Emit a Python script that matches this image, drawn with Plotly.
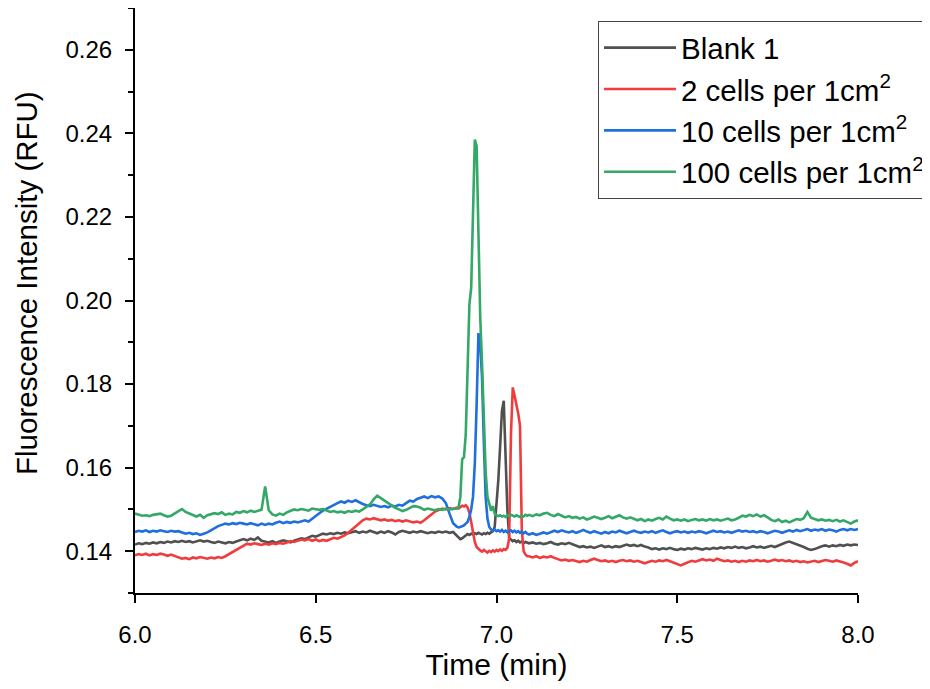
import numpy as np
import plotly.graph_objects as go

# time grid (min)
t_a = np.round(np.arange(6.00, 6.885, 0.01), 3)
t_b = np.round(np.arange(6.89, 7.0875, 0.005), 3)
t_c = np.round(np.arange(7.09, 8.005, 0.01), 3)
time_min = np.concatenate([t_a, t_b, t_c])

series_names = ["Blank 1", "2 cells per 1cm<sup>2</sup>", "10 cells per 1cm<sup>2</sup>", "100 cells per 1cm<sup>2</sup>"]
y_title = "Fluorescence Intensity (RFU)"
x_title = "Time (min)"

blank1 = [
    0.1416, 0.1419, 0.1417, 0.1420, 0.1418, 0.1421, 0.1419, 0.1422, 0.1420, 0.1423,
    0.1421, 0.1424, 0.1422, 0.1425, 0.1422, 0.1424, 0.1421, 0.1424, 0.1426, 0.1423,
    0.1425, 0.1422, 0.1420, 0.1423, 0.1421, 0.1419, 0.1422, 0.1420, 0.1423, 0.1426,
    0.1429, 0.1426, 0.1430, 0.1427, 0.1433, 0.1425, 0.1423, 0.1421, 0.1424, 0.1420,
    0.1423, 0.1426, 0.1424, 0.1421, 0.1425, 0.1428, 0.1431, 0.1429, 0.1434, 0.1437,
    0.1435, 0.1439, 0.1442, 0.1440, 0.1443, 0.1441, 0.1444, 0.1442, 0.1445, 0.1443,
    0.1446, 0.1448, 0.1444, 0.1447, 0.1445, 0.1449, 0.1446, 0.1443, 0.1447, 0.1444,
    0.1448, 0.1445, 0.1440, 0.1446, 0.1449, 0.1446, 0.1444, 0.1447, 0.1445, 0.1448,
    0.1446, 0.1443, 0.1446, 0.1444, 0.1447, 0.1445, 0.1447, 0.1444, 0.1446,
    # 6.89 - 7.085
    0.1438, 0.1432, 0.1429, 0.1431, 0.1434, 0.1438, 0.1441, 0.1439, 0.1442, 0.1440,
    0.1443, 0.1441, 0.1444, 0.1442, 0.1440, 0.1443, 0.1441, 0.1444, 0.1442, 0.1445,
    0.1448, 0.1458, 0.1505, 0.1570, 0.1650, 0.1735, 0.1760, 0.1640, 0.1500, 0.1432,
    0.1427, 0.1424, 0.1426, 0.1422, 0.1425, 0.1421, 0.1423, 0.1419, 0.1422, 0.1420,
    # 7.09 - 8.00
    0.1419, 0.1421, 0.1418, 0.1420, 0.1417, 0.1419, 0.1422, 0.1418, 0.1416, 0.1419,
    0.1417, 0.1420, 0.1416, 0.1413, 0.1410, 0.1412, 0.1409, 0.1411, 0.1408, 0.1411,
    0.1414, 0.1410, 0.1412, 0.1409, 0.1412, 0.1410, 0.1413, 0.1416, 0.1413, 0.1415,
    0.1412, 0.1415, 0.1411, 0.1409, 0.1405, 0.1407, 0.1404, 0.1407, 0.1405, 0.1408,
    0.1405,
    0.1403, 0.1406, 0.1404, 0.1407, 0.1405, 0.1408, 0.1406, 0.1404, 0.1407, 0.1405,
    0.1408, 0.1406, 0.1409, 0.1407, 0.1410, 0.1408, 0.1411, 0.1408, 0.1410, 0.1407,
    0.1409, 0.1412, 0.1409, 0.1411, 0.1408, 0.1410, 0.1413, 0.1410, 0.1414, 0.1418,
    0.1421, 0.1423, 0.1420, 0.1417, 0.1414, 0.1410, 0.1406, 0.1403, 0.1405, 0.1409,
    0.1412, 0.1414, 0.1411, 0.1414, 0.1412, 0.1415, 0.1413, 0.1416, 0.1414, 0.1416,
    0.1415,
]

cells_2 = [
    0.1390, 0.1393, 0.1391, 0.1394, 0.1390, 0.1393, 0.1391, 0.1394, 0.1392, 0.1389,
    0.1392, 0.1388, 0.1385, 0.1382, 0.1384, 0.1381, 0.1385, 0.1383, 0.1386, 0.1384,
    0.1382, 0.1385, 0.1383, 0.1386, 0.1384, 0.1388, 0.1393, 0.1399, 0.1405, 0.1410,
    0.1415, 0.1418, 0.1416, 0.1419, 0.1417, 0.1415, 0.1418, 0.1416, 0.1419, 0.1417,
    0.1420, 0.1418, 0.1421, 0.1424, 0.1422, 0.1425, 0.1428, 0.1426, 0.1429, 0.1425,
    0.1428, 0.1424, 0.1427, 0.1425, 0.1429, 0.1432, 0.1430, 0.1434, 0.1438, 0.1444,
    0.1451, 0.1459, 0.1467, 0.1474, 0.1478, 0.1476, 0.1479, 0.1477, 0.1474, 0.1476,
    0.1473, 0.1475, 0.1472, 0.1474, 0.1471, 0.1474, 0.1472, 0.1469, 0.1471, 0.1468,
    0.1474, 0.1480, 0.1488, 0.1495, 0.1499, 0.1502, 0.1500, 0.1503, 0.1501,
    # 6.89 - 7.085
    0.1504, 0.1502, 0.1506, 0.1509, 0.1507, 0.1510, 0.1505, 0.1492, 0.1470, 0.1445,
    0.1422, 0.1410, 0.1405, 0.1402, 0.1399, 0.1403, 0.1400, 0.1397, 0.1401, 0.1398,
    0.1402, 0.1399, 0.1403, 0.1400, 0.1404, 0.1401, 0.1405, 0.1403, 0.1408, 0.1430,
    0.1680, 0.1792, 0.1772, 0.1752, 0.1730, 0.1700, 0.1450, 0.1400, 0.1392, 0.1388,
    # 7.09 - 8.00
    0.1388, 0.1385, 0.1388, 0.1384, 0.1387, 0.1385, 0.1388, 0.1384, 0.1381, 0.1378,
    0.1380, 0.1377, 0.1379, 0.1376, 0.1374, 0.1377, 0.1375, 0.1379, 0.1382, 0.1379,
    0.1376, 0.1378, 0.1375, 0.1377, 0.1374, 0.1377, 0.1379, 0.1376, 0.1378, 0.1375,
    0.1377, 0.1374, 0.1371, 0.1374, 0.1377, 0.1375, 0.1378, 0.1376, 0.1379, 0.1376,
    0.1373,
    0.1369, 0.1366, 0.1370, 0.1374, 0.1377, 0.1375, 0.1378, 0.1381, 0.1378, 0.1380,
    0.1377, 0.1382, 0.1379, 0.1376, 0.1378, 0.1375, 0.1377, 0.1374, 0.1377, 0.1375,
    0.1378, 0.1376, 0.1379, 0.1376, 0.1378, 0.1375, 0.1377, 0.1380, 0.1377, 0.1379,
    0.1376, 0.1378, 0.1375, 0.1377, 0.1374, 0.1376, 0.1373, 0.1375, 0.1377, 0.1374,
    0.1376, 0.1379, 0.1377, 0.1375, 0.1378, 0.1376, 0.1373, 0.1370, 0.1366, 0.1372,
    0.1376,
]

cells_10 = [
    0.1446, 0.1449, 0.1447, 0.1450, 0.1446, 0.1449, 0.1447, 0.1450, 0.1448, 0.1446,
    0.1449, 0.1447, 0.1448, 0.1445, 0.1442, 0.1444, 0.1441, 0.1443, 0.1439, 0.1442,
    0.1445, 0.1450, 0.1456, 0.1460, 0.1463, 0.1466, 0.1464, 0.1467, 0.1465, 0.1468,
    0.1466, 0.1464, 0.1467, 0.1465, 0.1462, 0.1466, 0.1463, 0.1466, 0.1464, 0.1468,
    0.1471, 0.1467, 0.1470, 0.1468, 0.1471, 0.1469, 0.1472, 0.1474, 0.1471, 0.1478,
    0.1486, 0.1491, 0.1497, 0.1502, 0.1506, 0.1511, 0.1515, 0.1519, 0.1516, 0.1521,
    0.1518, 0.1522, 0.1517, 0.1513, 0.1510, 0.1508, 0.1511, 0.1509, 0.1506, 0.1508,
    0.1505, 0.1509, 0.1507, 0.1511, 0.1509, 0.1515, 0.1521, 0.1519, 0.1525, 0.1528,
    0.1531, 0.1527, 0.1532, 0.1529, 0.1531, 0.1526, 0.1515, 0.1490, 0.1467,
    # 6.89 - 7.085
    0.1459, 0.1457, 0.1458, 0.1460, 0.1462, 0.1466, 0.1470, 0.1482, 0.1500, 0.1530,
    0.1610, 0.1750, 0.1922, 0.1895, 0.1815, 0.1660, 0.1530, 0.1478, 0.1458, 0.1452,
    0.1449, 0.1452, 0.1448, 0.1450, 0.1447, 0.1451, 0.1446, 0.1449, 0.1445, 0.1448,
    0.1450, 0.1446, 0.1449, 0.1445, 0.1448, 0.1444, 0.1447, 0.1443, 0.1446, 0.1442,
    # 7.09 - 8.00
    0.1440, 0.1443, 0.1439, 0.1442, 0.1445, 0.1442, 0.1446, 0.1449, 0.1446, 0.1450,
    0.1447, 0.1445, 0.1448, 0.1444, 0.1447, 0.1451, 0.1447, 0.1444, 0.1448, 0.1445,
    0.1442, 0.1446, 0.1443, 0.1447, 0.1445, 0.1449, 0.1446, 0.1443, 0.1446, 0.1449,
    0.1446, 0.1444, 0.1447, 0.1445, 0.1448, 0.1444, 0.1447, 0.1450, 0.1446, 0.1443,
    0.1446,
    0.1448, 0.1445, 0.1447, 0.1444, 0.1447, 0.1445, 0.1448, 0.1446, 0.1443, 0.1446,
    0.1449, 0.1446, 0.1448, 0.1445, 0.1447, 0.1444, 0.1447, 0.1450, 0.1447, 0.1449,
    0.1446, 0.1448, 0.1445, 0.1448, 0.1446, 0.1443, 0.1446, 0.1449, 0.1447, 0.1444,
    0.1447, 0.1450, 0.1447, 0.1451, 0.1448, 0.1450, 0.1453, 0.1449, 0.1452, 0.1450,
    0.1453, 0.1449, 0.1452, 0.1450, 0.1447, 0.1451, 0.1453, 0.1450, 0.1453, 0.1451,
    0.1453,
]

cells_100 = [
    0.1490, 0.1487, 0.1485, 0.1486, 0.1484, 0.1487, 0.1488, 0.1490, 0.1486, 0.1483,
    0.1485, 0.1490, 0.1496, 0.1501, 0.1494, 0.1490, 0.1486, 0.1483, 0.1487, 0.1480,
    0.1486, 0.1488, 0.1491, 0.1489, 0.1493, 0.1487, 0.1490, 0.1488, 0.1494, 0.1492,
    0.1496, 0.1493, 0.1497, 0.1494, 0.1496, 0.1499, 0.1555, 0.1498, 0.1488, 0.1485,
    0.1490, 0.1487, 0.1493, 0.1497, 0.1500, 0.1498, 0.1501, 0.1499, 0.1497, 0.1502,
    0.1500, 0.1499, 0.1501, 0.1497, 0.1494, 0.1496, 0.1493, 0.1495, 0.1492, 0.1496,
    0.1494, 0.1497, 0.1495, 0.1500, 0.1506, 0.1512, 0.1524, 0.1533, 0.1527, 0.1521,
    0.1516, 0.1510, 0.1504, 0.1500, 0.1496, 0.1499, 0.1503, 0.1508, 0.1507, 0.1504,
    0.1499, 0.1502, 0.1500, 0.1498, 0.1501, 0.1499, 0.1502, 0.1500, 0.1501,
    # 6.89 - 7.085
    0.1502, 0.1505, 0.1530, 0.1620, 0.1625, 0.1680, 0.1830, 0.1990, 0.2030, 0.2230,
    0.2385, 0.2370, 0.2120, 0.1960, 0.1850, 0.1700, 0.1590, 0.1530, 0.1510, 0.1497,
    0.1508, 0.1490, 0.1486, 0.1484, 0.1486, 0.1483, 0.1485, 0.1482, 0.1486, 0.1484,
    0.1487, 0.1485, 0.1483, 0.1486, 0.1484, 0.1482, 0.1485, 0.1483, 0.1487, 0.1485,
    # 7.09 - 8.00
    0.1487, 0.1484, 0.1488, 0.1486, 0.1490, 0.1492, 0.1487, 0.1484, 0.1489, 0.1485,
    0.1481, 0.1484, 0.1480, 0.1482, 0.1478, 0.1481, 0.1476, 0.1479, 0.1483, 0.1480,
    0.1477, 0.1480, 0.1484, 0.1479, 0.1482, 0.1486, 0.1481, 0.1478, 0.1481, 0.1477,
    0.1474, 0.1477, 0.1472, 0.1476, 0.1473, 0.1477, 0.1480, 0.1476, 0.1483, 0.1478,
    0.1474,
    0.1476, 0.1473, 0.1476, 0.1472, 0.1475, 0.1477, 0.1474, 0.1476, 0.1473, 0.1477,
    0.1474, 0.1476, 0.1473, 0.1475, 0.1478, 0.1474, 0.1476, 0.1480, 0.1485, 0.1483,
    0.1487, 0.1484, 0.1488, 0.1483, 0.1486, 0.1481, 0.1475, 0.1472, 0.1476, 0.1470,
    0.1473, 0.1469, 0.1474, 0.1477, 0.1475, 0.1479, 0.1494, 0.1480, 0.1477, 0.1474,
    0.1476, 0.1473, 0.1475, 0.1472, 0.1475, 0.1471, 0.1474, 0.1470, 0.1466, 0.1471,
    0.1474,
]

for s in (blank1, cells_2, cells_10, cells_100):
    assert len(s) == len(time_min), (len(s), len(time_min))

colors = ["#505050", "#F03C3C", "#1F6FDC", "#33A867"]
FONT = "Liberation Sans, Arial, sans-serif"

fig = go.Figure()
for name, ys, c in zip(series_names, [blank1, cells_2, cells_10, cells_100], colors):
    fig.add_trace(go.Scatter(x=time_min, y=ys, mode="lines", name=name,
                             line=dict(color=c, width=2.6)))

# the page body adds an 8px offset, so the figure is 8px smaller than the window
fig.update_layout(
    width=922, height=681,
    margin=dict(l=127, r=68, t=0, b=96),
    paper_bgcolor="white", plot_bgcolor="white",
    font=dict(family=FONT, color="black"),
    legend=dict(x=0.6404, y=0.9778, xanchor="left", yanchor="top",
                bgcolor="white", bordercolor="#444444", borderwidth=1,
                font=dict(size=29.5, family=FONT, color="black"),
                itemwidth=72, tracegroupgap=0),
    showlegend=True,
)
fig.update_xaxes(range=[6, 8], dtick=0.5, tick0=6, tickformat=".1f",
                 showline=True, linecolor="black", linewidth=2,
                 ticks="outside", ticklen=8, tickwidth=2, tickcolor="black",
                 showgrid=False, zeroline=False, automargin=False,
                 tickfont=dict(size=24, family=FONT), ticklabelstandoff=11,
                 title=dict(text=x_title, font=dict(size=30, family=FONT), standoff=6))
fig.update_yaxes(range=[0.13, 0.27], dtick=0.02, tick0=0.14, tickformat=".2f",
                 showline=True, linecolor="black", linewidth=2,
                 ticks="outside", ticklen=8, tickwidth=2, tickcolor="black",
                 minor=dict(dtick=0.01, tick0=0.13, ticks="outside", ticklen=5, tickwidth=2, tickcolor="black"),
                 showgrid=False, zeroline=False, automargin=False,
                 tickfont=dict(size=24, family=FONT), ticklabelstandoff=8)

# y-axis title, placed slightly above the axis centre as in the original
fig.add_annotation(text=y_title, textangle=-90, showarrow=False,
                   xref="paper", yref="paper", x=0, y=0.53,
                   xanchor="center", yanchor="middle", xshift=-108,
                   font=dict(size=29.5, family=FONT, color="black"))

fig.write_html("out.html")
